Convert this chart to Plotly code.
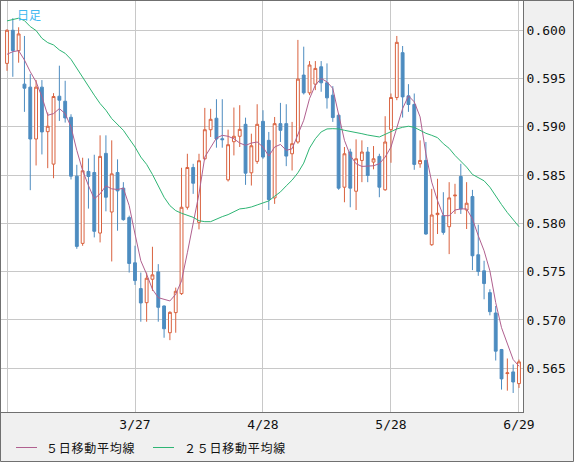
import pandas as pd
import plotly.graph_objects as go

# trading days 2015-02-25 .. 2015-06-29 (weekdays)
dates = pd.bdate_range("2015-02-25", "2015-06-29").strftime("%Y-%m-%d").tolist()

open_ = [0.59657, 0.60000, 0.59789, 0.59442, 0.59411, 0.58874, 0.59411, 0.58950, 0.58614, 0.59317,
         0.59265, 0.59099, 0.58489, 0.57793, 0.58538, 0.58527, 0.57900, 0.58725, 0.58118, 0.58527,
         0.58365, 0.58060, 0.57592, 0.57325, 0.57179, 0.57422, 0.57498, 0.57145, 0.56868, 0.57076,
         0.57273, 0.58167, 0.58579, 0.58011, 0.58669, 0.58970, 0.59089, 0.58877, 0.58451, 0.58846,
         0.58902, 0.59026, 0.58524, 0.58642, 0.59057, 0.58860, 0.58264, 0.59033, 0.59033, 0.58721,
         0.58843, 0.59536, 0.59352, 0.59442, 0.59622, 0.59456, 0.59328, 0.59120, 0.58375, 0.58739,
         0.58333, 0.58652, 0.58739, 0.58635, 0.58694, 0.58348, 0.58971, 0.59304, 0.59768, 0.59321,
         0.59231, 0.58617, 0.58652, 0.57779, 0.58091, 0.58080, 0.57966, 0.58285, 0.58486, 0.58139,
         0.58278, 0.57675, 0.57509, 0.57283, 0.57072, 0.56694, 0.56445, 0.56462, 0.56341]
high = [0.60010, 0.60125, 0.60031, 0.59941, 0.59546, 0.59484, 0.59484, 0.59148, 0.59349, 0.59633,
        0.59477, 0.59130, 0.58607, 0.58680, 0.58673, 0.58711, 0.58912, 0.58912, 0.58860, 0.58663,
        0.58427, 0.58080, 0.57769, 0.57491, 0.57491, 0.57758, 0.57578, 0.57150, 0.57090, 0.57335,
        0.58576, 0.58721, 0.58617, 0.58721, 0.59196, 0.59186, 0.59286, 0.59286, 0.58971, 0.59200,
        0.59224, 0.59095, 0.58929, 0.59234, 0.59172, 0.58947, 0.59102, 0.59248, 0.59234, 0.59051,
        0.59900, 0.59830, 0.59681, 0.59681, 0.59681, 0.59657, 0.59421, 0.59137, 0.58791, 0.58773,
        0.58870, 0.58860, 0.58791, 0.58801, 0.58721, 0.59110, 0.59345, 0.59941, 0.59837, 0.59442,
        0.59345, 0.58860, 0.58843, 0.58358, 0.58462, 0.58323, 0.58427, 0.58410, 0.58617, 0.58427,
        0.58347, 0.57987, 0.57613, 0.57318, 0.57145, 0.56700, 0.56601, 0.56539, 0.56590]
low = [0.59580, 0.59518, 0.59664, 0.59155, 0.58344, 0.58600, 0.58714, 0.58572, 0.58468, 0.59061,
       0.59044, 0.58455, 0.57737, 0.57768, 0.58153, 0.57855, 0.57803, 0.58125, 0.57606, 0.57924,
       0.58028, 0.57491, 0.57363, 0.56982, 0.56982, 0.57301, 0.56982, 0.56816, 0.56791, 0.56868,
       0.57259, 0.58143, 0.58306, 0.57938, 0.58655, 0.58895, 0.58784, 0.58784, 0.58434, 0.58704,
       0.58791, 0.58399, 0.58392, 0.58617, 0.58669, 0.58139, 0.58202, 0.58843, 0.58593, 0.58548,
       0.58825, 0.59335, 0.59328, 0.59380, 0.59363, 0.59189, 0.59051, 0.58348, 0.58219, 0.58167,
       0.58139, 0.58427, 0.58427, 0.58560, 0.58271, 0.58338, 0.58628, 0.59276, 0.59096, 0.59155,
       0.58555, 0.58576, 0.57883, 0.57768, 0.57890, 0.57883, 0.57682, 0.58098, 0.58098, 0.57942,
       0.57516, 0.57457, 0.57214, 0.57048, 0.56580, 0.56279, 0.56268, 0.56244, 0.56296]
close = [0.60000, 0.59789, 0.59962, 0.59400, 0.58874, 0.59411, 0.58947, 0.59006, 0.59314, 0.59276,
         0.59092, 0.58489, 0.57762, 0.58545, 0.58486, 0.57918, 0.58694, 0.58271, 0.58513, 0.58337,
         0.58039, 0.57585, 0.57408, 0.57176, 0.57432, 0.57467, 0.57131, 0.56909, 0.57079, 0.57297,
         0.58167, 0.58579, 0.58416, 0.58649, 0.58970, 0.59078, 0.58874, 0.58867, 0.58815, 0.58902,
         0.58974, 0.58520, 0.58804, 0.59026, 0.58687, 0.58247, 0.59033, 0.58964, 0.58697, 0.58825,
         0.59494, 0.59352, 0.59640, 0.59605, 0.59456, 0.59300, 0.59096, 0.58365, 0.58721, 0.58365,
         0.58669, 0.58739, 0.58496, 0.58669, 0.58375, 0.58843, 0.59304, 0.59875, 0.59310, 0.59231,
         0.58611, 0.58652, 0.57890, 0.58087, 0.58105, 0.57907, 0.58264, 0.58292, 0.58150, 0.58209,
         0.57665, 0.57502, 0.57377, 0.57086, 0.56677, 0.56390, 0.56452, 0.56358, 0.56566]

ma5 = [0.59751, 0.59778, 0.59789, 0.59692, 0.59570, 0.59466, 0.59310, 0.59120, 0.59137, 0.59189,
       0.59137, 0.58999, 0.58756, 0.58548, 0.58392, 0.58254, 0.58306, 0.58389, 0.58358, 0.58351,
       0.58365, 0.58184, 0.57890, 0.57613, 0.57474, 0.57318, 0.57231, 0.57214, 0.57197, 0.57266,
       0.57405, 0.57696, 0.58001, 0.58306, 0.58687, 0.58791, 0.58884, 0.58912, 0.58902, 0.58877,
       0.58832, 0.58808, 0.58832, 0.58843, 0.58791, 0.58697, 0.58791, 0.58818, 0.58756, 0.58773,
       0.58929, 0.59068, 0.59293, 0.59432, 0.59501, 0.59466, 0.59397, 0.59120, 0.58860, 0.58704,
       0.58618, 0.58590, 0.58593, 0.58597, 0.58618, 0.58687, 0.58791, 0.58999, 0.59189, 0.59321,
       0.59259, 0.59103, 0.58721, 0.58427, 0.58236, 0.58080, 0.58080, 0.58139, 0.58150, 0.58150,
       0.58046, 0.57873, 0.57717, 0.57509, 0.57180, 0.56920, 0.56746, 0.56590, 0.56521]
ma25 = [0.60097, 0.60114, 0.60125, 0.60100, 0.60038, 0.59997, 0.59917, 0.59872, 0.59848, 0.59796,
        0.59761, 0.59699, 0.59605, 0.59518, 0.59414, 0.59328, 0.59241, 0.59172, 0.59085, 0.59026,
        0.58964, 0.58877, 0.58791, 0.58687, 0.58611, 0.58507, 0.58385, 0.58271, 0.58184, 0.58132,
        0.58105, 0.58080, 0.58063, 0.58028, 0.58018, 0.58018, 0.58046, 0.58070, 0.58091, 0.58122,
        0.58150, 0.58157, 0.58170, 0.58191, 0.58212, 0.58233, 0.58281, 0.58326, 0.58389, 0.58448,
        0.58524, 0.58624, 0.58780, 0.58877, 0.58947, 0.58978, 0.58981, 0.58978, 0.58964, 0.58954,
        0.58940, 0.58929, 0.58915, 0.58902, 0.58895, 0.58922, 0.58954, 0.58978, 0.58995, 0.59006,
        0.58995, 0.58964, 0.58933, 0.58912, 0.58888, 0.58825, 0.58777, 0.58704, 0.58642, 0.58583,
        0.58507, 0.58475, 0.58441, 0.58375, 0.58281, 0.58195, 0.58112, 0.58039, 0.57966]

tick_dates = ["2015-02-25", "2015-03-27", "2015-04-28", "2015-05-28", "2015-06-29"]
tick_text = ["", "3/27", "4/28", "5/28", "6/29"]
y_ticks = [0.565, 0.570, 0.575, 0.580, 0.585, 0.590, 0.595, 0.600]

UP = "#d9623f"
DOWN = "#4d8cc0"
MA5_COLOR = "#b0608f"
MA25_COLOR = "#2eb574"
MONO = "DejaVu Sans Mono"
CJK = "Noto Sans CJK JP"

fig = go.Figure()
fig.add_trace(go.Candlestick(
    x=dates, open=open_, high=high, low=low, close=close,
    increasing=dict(line=dict(color=UP, width=1), fillcolor="white"),
    decreasing=dict(line=dict(color=DOWN, width=1), fillcolor=DOWN),
    whiskerwidth=0, showlegend=False, name="日足"))
fig.add_trace(go.Scatter(x=dates, y=ma5, mode="lines", line=dict(color=MA5_COLOR, width=1),
                         name="５日移動平均線", showlegend=False))
fig.add_trace(go.Scatter(x=dates, y=ma25, mode="lines", line=dict(color=MA25_COLOR, width=1),
                         name="２５日移動平均線", showlegend=False))

# px -> paper helpers (plot area: x 1..523, y 1..412)
def px(x):
    return (x - 1) / 522

def py(y):
    return (412 - y) / 411

shapes = [
    dict(type="rect", xref="paper", yref="paper", x0=px(0.5), x1=px(573.5), y0=py(461.5), y1=py(0.5),
         line=dict(color="#707070", width=1), layer="below"),
    dict(type="line", xref="paper", yref="paper", x0=px(16), x1=px(37), y0=py(447.5), y1=py(447.5),
         line=dict(color=MA5_COLOR, width=1)),
    dict(type="line", xref="paper", yref="paper", x0=px(153), x1=px(174), y0=py(447.5), y1=py(447.5),
         line=dict(color=MA25_COLOR, width=1)),
]

sp = "\u200a"
annotations = [
    dict(text="日足", x=px(15), y=py(4), xref="paper", yref="paper", xanchor="left", yanchor="top",
         showarrow=False, font=dict(family=CJK, size=12, color="#40b8f0")),
    dict(text=sp.join("５日移動平均線"), x=px(44), y=py(447.5), xref="paper", yref="paper",
         xanchor="left", yanchor="middle", showarrow=False, font=dict(family=CJK, size=12, color="#111111")),
    dict(text=sp.join("２５日移動平均線"), x=px(182), y=py(447.5), xref="paper", yref="paper",
         xanchor="left", yanchor="middle", showarrow=False, font=dict(family=CJK, size=12, color="#111111")),
]

fig.update_layout(
    width=574, height=462,
    margin=dict(l=1, r=51, t=1, b=50),
    paper_bgcolor="#f0f0f0", plot_bgcolor="white",
    boxgap=0.3,
    shapes=shapes, annotations=annotations,
    xaxis=dict(type="category", range=[-1.031, 88.69], tickvals=tick_dates, ticktext=tick_text,
               showgrid=True, gridcolor="#c8c8c8", gridwidth=1, ticks="",
               showline=True, linecolor="#707070", linewidth=1, mirror=True,
               rangeslider=dict(visible=False), zeroline=False, automargin=False,
               tickfont=dict(family=MONO, size=13, color="#111111")),
    yaxis=dict(side="right", range=[0.56047, 0.60303], tickvals=y_ticks, tickformat=".3f",
               showgrid=True, gridcolor="#c8c8c8", gridwidth=1, ticks="",
               showline=True, linecolor="#707070", linewidth=1, mirror=True, zeroline=False,
               automargin=False, tickfont=dict(family=MONO, size=13, color="#111111")),
)

fig.write_html("out.html", config={"displayModeBar": False},
               post_script="document.body.style.margin='0px';")
